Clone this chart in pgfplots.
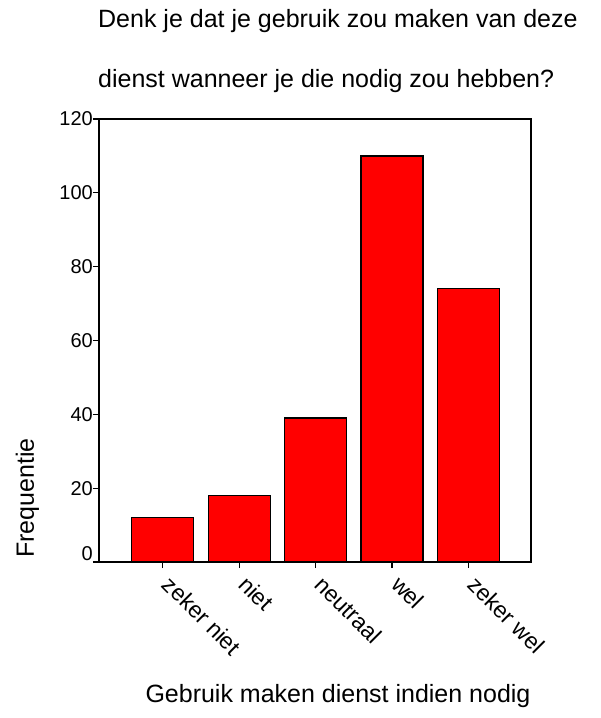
\documentclass[border=0pt]{standalone}
\usepackage{fontspec}
\setmainfont{Liberation Sans}
\usepackage{pgfplots}
\pgfplotsset{compat=1.18}
\begin{document}
\begin{tikzpicture}
\begin{axis}[
  at={(0,0)}, anchor=south west,
  scale only axis, width=432pt, height=443pt,
  ybar,
  xmin=-0.834, xmax=4.82, ymin=0, ymax=120,
  xtick={0,1,2,3,4},
  xticklabels={zeker niet, niet, neutraal, wel, zeker wel},
  ytick={20,40,...,120},
  extra y ticks={0},
  extra y tick style={yticklabel style={yshift=8pt}},
  tick align=outside, xtick pos=lower, ytick pos=left,
  major tick length=6pt,
  axis line style={line width=1.2pt},
  every tick/.style={black, line width=1.2pt},
  yticklabel style={inner sep=0pt, font=\fontsize{20}{24}\selectfont},
  xticklabel style={xshift=10pt, yshift=-6pt, rotate=-45, anchor=north west, inner sep=0pt, font=\fontsize{23}{27}\selectfont},
  /pgf/number format/assume math mode=true,
  clip=false,
]
\addplot[bar width=62pt, fill=red, draw=black, line width=1.2pt]
  coordinates {(0,12) (1,18) (2,39) (3,110) (4,74)};
\end{axis}
\node[anchor=base west, inner sep=0pt, font=\fontsize{25}{30}\selectfont] at (-1pt,534pt) {Denk je dat je gebruik zou maken van deze};
\node[anchor=base west, inner sep=0pt, font=\fontsize{25}{30}\selectfont] at (-1pt,474pt) {dienst wanneer je die nodig zou hebben?};
\node[anchor=base, inner sep=0pt, font=\fontsize{25}{30}\selectfont] at (239pt,-140pt) {Gebruik maken dienst indien nodig};
\node[anchor=base, rotate=90, inner sep=0pt, font=\fontsize{25}{30}\selectfont] at (-65pt,64pt) {Frequentie};
\pgfresetboundingbox
\path[use as bounding box] (-99pt,-156pt) rectangle (502pt,562pt);
\end{tikzpicture}
\end{document}
